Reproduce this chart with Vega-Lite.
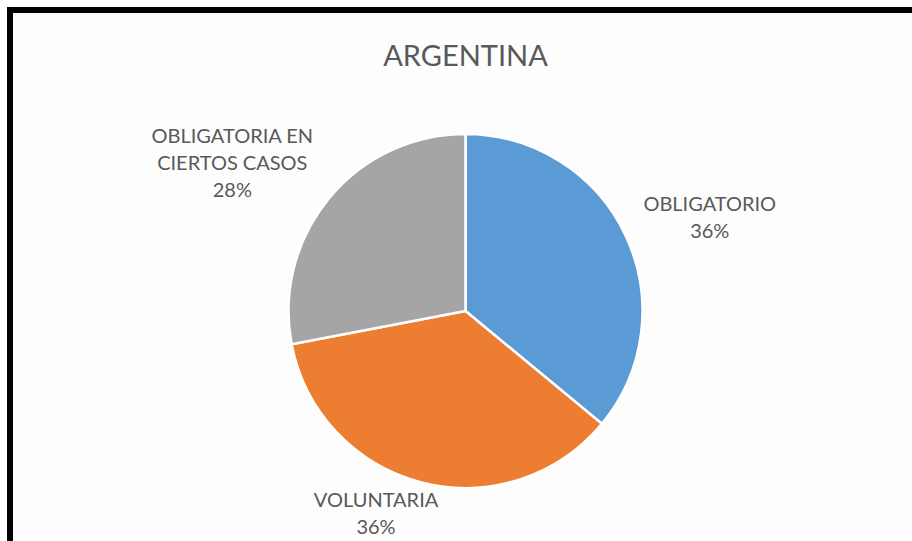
{
  "$schema": "https://vega.github.io/schema/vega-lite/v6.json",
  "autosize": {"type": "none"},
  "padding": {"left": 10, "top": 10, "right": 0, "bottom": 0},
  "width": 911,
  "height": 602,
  "background": "white",
  "view": {"stroke": "black", "strokeWidth": 6, "fill": "#fdfdfd"},
  "title": {
    "text": "ARGENTINA",
    "font": "Lato",
    "fontSize": 29,
    "fontWeight": "normal",
    "color": "#595959",
    "anchor": "middle",
    "baseline": "alphabetic",
    "offset": 0,
    "dy": 85
  },
  "config": {
    "view": {"stroke": "black", "strokeWidth": 6, "fill": "#fdfdfd"},
    "text": {"font": "Lato"}
  },
  "data": {
    "values": [
      {"cat": "OBLIGATORIO", "label": "OBLIGATORIO", "value": 36, "idx": 1},
      {"cat": "VOLUNTARIA", "label": "VOLUNTARIA", "value": 36, "idx": 2},
      {"cat": "OBLIGATORIA EN CIERTOS CASOS", "label": "OBLIGATORIA EN\nCIERTOS CASOS", "value": 28, "idx": 3}
    ]
  },
  "transform": [
    {"calculate": "datum.label + '\\n' + datum.value + '%'", "as": "txt"}
  ],
  "encoding": {
    "theta": {"field": "value", "type": "quantitative", "stack": true},
    "order": {"field": "idx", "type": "quantitative"}
  },
  "layer": [
    {
      "mark": {"type": "arc", "outerRadius": 177, "stroke": "white", "strokeWidth": 2.5},
      "encoding": {
        "color": {
          "field": "cat",
          "type": "nominal",
          "scale": {
            "domain": ["OBLIGATORIO", "VOLUNTARIA", "OBLIGATORIA EN CIERTOS CASOS"],
            "range": ["#5B9BD5", "#ED7D31", "#A5A5A5"]
          },
          "legend": null
        }
      }
    },
    {
      "mark": {"type": "text", "radius": 260, "dx": 9, "dy": 5, "fontSize": 20, "lineHeight": 27, "lineBreak": "\n", "color": "#595959", "align": "center", "baseline": "middle"},
      "encoding": {
        "text": {"condition": {"test": "datum.cat === 'OBLIGATORIO'", "field": "txt"}, "value": ""}
      }
    },
    {
      "mark": {"type": "text", "radius": 215, "dx": -36, "dy": -18, "fontSize": 20, "lineHeight": 27, "lineBreak": "\n", "color": "#595959", "align": "center", "baseline": "middle"},
      "encoding": {
        "text": {"condition": {"test": "datum.cat === 'VOLUNTARIA'", "field": "txt"}, "value": ""}
      }
    },
    {
      "mark": {"type": "text", "radius": 265, "dx": -29, "dy": -5, "fontSize": 20, "lineHeight": 27, "lineBreak": "\n", "color": "#595959", "align": "center", "baseline": "middle"},
      "encoding": {
        "text": {"condition": {"test": "datum.cat === 'OBLIGATORIA EN CIERTOS CASOS'", "field": "txt"}, "value": ""}
      }
    }
  ]
}
